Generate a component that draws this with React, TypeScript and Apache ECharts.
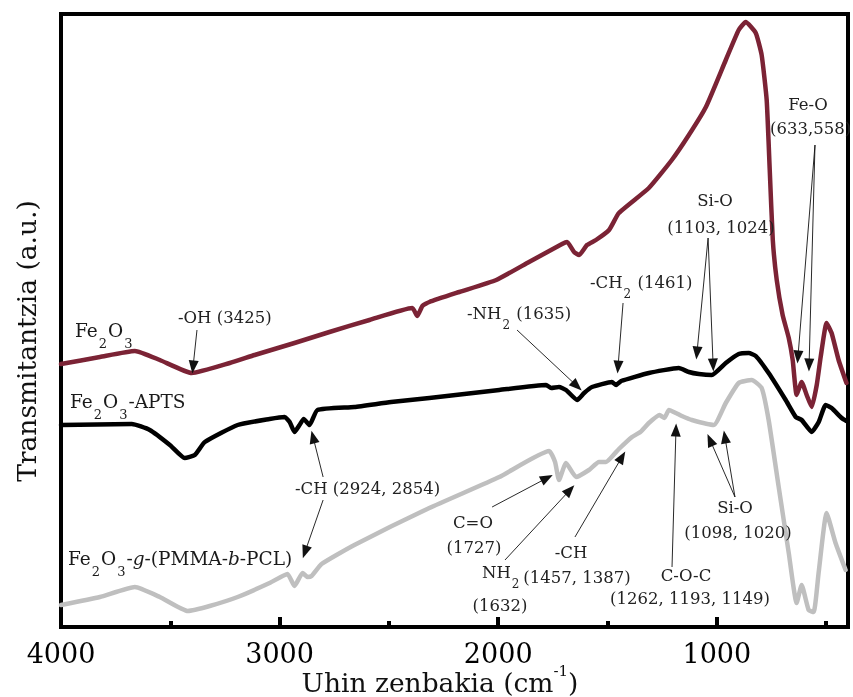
import React, { useEffect, useRef } from 'react';
import * as echarts from 'echarts';

const FONT = '"DejaVu Serif", serif';

const majorTicks = [4000, 3000, 2000, 1000];
const minorTicks = [3500, 2500, 1500, 500];

const seriesNames = ['Fe2O3', 'Fe2O3-APTS', 'Fe2O3-g-(PMMA-b-PCL)'];

const fe2o3Wn = [4000, 3822, 3662, 3548, 3402, 3228, 3114, 2932, 2772, 2589, 2393, 2370, 2347, 2315, 2178, 2009, 1859, 1708, 1685, 1653, 1630, 1594, 1553, 1493, 1448, 1311, 1206, 1128, 1050, 959, 900, 868, 822, 795, 772, 758, 744, 726, 699, 671, 653, 635, 612, 589, 566, 543, 525, 498, 475, 443, 407];
const fe2o3T = [263, 270, 276, 267, 254, 264, 272, 284, 295, 307, 319, 311, 321, 325, 335, 347, 365, 383, 385, 375, 372, 382, 387, 397, 414, 439, 467, 492, 520, 567, 597, 605, 594, 572, 527, 457, 387, 347, 312, 289, 267, 232, 245, 232, 220, 242, 270, 304, 294, 267, 244];

const aptsWn = [4000, 3676, 3594, 3502, 3434, 3388, 3342, 3192, 3046, 2977, 2954, 2932, 2909, 2890, 2863, 2827, 2658, 2490, 2315, 1995, 1781, 1758, 1722, 1690, 1639, 1607, 1571, 1480, 1461, 1438, 1311, 1174, 1128, 1082, 1023, 959, 900, 854, 822, 763, 685, 639, 612, 566, 534, 502, 475, 429, 407];
const aptsT = [202, 203, 197, 182, 169, 172, 185, 202, 208, 210, 205, 195, 202, 208, 202, 217, 220, 225, 229, 237, 242, 239, 240, 237, 227, 234, 240, 245, 242, 246, 254, 259, 255, 253, 252, 264, 273, 274, 271, 254, 227, 210, 207, 195, 205, 222, 219, 209, 206];

const pmmaWn = [4000, 3822, 3662, 3548, 3420, 3320, 3192, 3046, 2964, 2932, 2895, 2872, 2854, 2808, 2658, 2315, 1995, 1767, 1740, 1722, 1690, 1644, 1585, 1539, 1507, 1448, 1388, 1350, 1311, 1262, 1240, 1219, 1187, 1160, 1114, 1014, 959, 900, 840, 795, 763, 717, 671, 635, 612, 580, 557, 534, 498, 457, 411];
const pmmaT = [22, 30, 40, 30, 16, 21, 30, 44, 53, 41, 54, 50, 51, 63, 82, 119, 150, 176, 165, 147, 164, 150, 157, 165, 165, 178, 190, 195, 204, 212, 209, 217, 214, 211, 207, 202, 224, 244, 247, 239, 207, 140, 74, 24, 42, 17, 15, 55, 114, 84, 57];

// annotation arrows: [tailWn, tailT, tipWn, tipT]
const arrows = [
  [3378, 297, 3396, 260],
  [2801, 150, 2847, 190],
  [2801, 127, 2884, 75],
  [1914, 297, 1640, 241],
  [1429, 324, 1452, 260],
  [1040, 389, 1091, 274],
  [1040, 389, 1017, 262],
  [551, 482, 629, 270],
  [551, 482, 578, 262],
  [2028, 120, 1777, 149],
  [1969, 67, 1672, 137],
  [1649, 90, 1434, 170],
  [1205, 60, 1187, 197],
  [917, 130, 1031, 187],
  [917, 130, 963, 190],
];

// series name labels: [text, x, y]
const nameLabels: [string, number, number][] = [
  ['Fe{s|2}O{s|3}', 75, 330],
  ['Fe{s|2}O{s|3}-APTS', 70, 401],
  ['Fe{s|2}O{s|3}-{i|g}-(PMMA-{i|b}-PCL)', 68, 558],
];

// annotation texts: [text, x, y, align]
const labels: [string, number, number, string][] = [
  ['-OH (3425)', 178, 317, 'left'],
  ['-CH (2924, 2854)', 295, 488, 'left'],
  ['-NH{s|2} (1635)', 467, 313, 'left'],
  ['-CH{s|2} (1461)', 590, 282, 'left'],
  ['Si-O', 715, 200, 'center'],
  ['(1103, 1024)', 721, 227, 'center'],
  ['Fe-O', 808, 104, 'center'],
  ['(633,558)', 770, 128, 'left'],
  ['C=O', 473, 522, 'center'],
  ['(1727)', 474, 547, 'center'],
  ['NH{s|2}', 482, 572, 'left'],
  ['(1632)', 500, 605, 'center'],
  ['-CH', 571, 552, 'center'],
  ['(1457, 1387)', 577, 577, 'center'],
  ['C-O-C', 686, 575, 'center'],
  ['(1262, 1193, 1149)', 690, 598, 'center'],
  ['Si-O', 735, 507, 'center'],
  ['(1098, 1020)', 738, 532, 'center'],
];

const zip = (xs: number[], ys: number[]) => xs.map((x, i) => [x, ys[i]]);

const richBase = (size: number, fill: string) => ({
  s: { fontSize: Math.round(size * 0.72), fontFamily: FONT, fill, padding: [Math.round(size * 1.4), 1, 0, 1] },
  i: { fontSize: size, fontFamily: FONT, fontStyle: 'italic', fill },
});

const makeText = (text: string, x: number, y: number, align: string, size: number, fill: string) => ({
  type: 'text',
  z: 100,
  style: {
    text, x, y,
    align, verticalAlign: 'middle',
    textAlign: align, textVerticalAlign: 'middle',
    fontSize: size, fontFamily: FONT, fill,
    rich: richBase(size, fill),
  },
});

export default function App() {
  const ref = useRef<HTMLDivElement>(null);
  useEffect(() => {
    if (!ref.current) return;
    const chart = echarts.init(ref.current, undefined, { renderer: 'svg' });
    const textEls: any[] = [
      ...nameLabels.map(([t, x, y]) => makeText(t, x, y, 'left', 18.5, '#1a1a1a')),
      ...labels.map(([t, x, y, a]) => makeText(t, x, y, a, 16.5, '#222')),
    ];
    textEls.push({
      type: 'text', z: 100, rotation: Math.PI / 2, x: 26, y: 341,
      style: {
        text: 'Transmitantzia (a.u.)', x: 0, y: 0,
        align: 'center', verticalAlign: 'middle', textAlign: 'center', textVerticalAlign: 'middle',
        fontSize: 26.5, fontFamily: FONT, fill: '#111',
      },
    });
    textEls.push({
      type: 'text', z: 100,
      style: {
        text: 'Uhin zenbakia (cm{sup|-1})', x: 440, y: 682,
        align: 'center', verticalAlign: 'middle', textAlign: 'center', textVerticalAlign: 'middle',
        fontSize: 26.5, fontFamily: FONT, fill: '#111',
        rich: { sup: { fontSize: 15, fontFamily: FONT, fill: '#111', padding: [0, 0, 22, 0] } },
      },
    });

    const lineSeries = (name: string, data: number[][], color: string, extra: any = {}) => ({
      type: 'line', name, data, showSymbol: false, symbol: 'none', smooth: 0.15,
      lineStyle: { color, width: 4.5, cap: 'round', join: 'round' },
      xAxisIndex: 0, yAxisIndex: 0, silent: true, ...extra,
    });

    chart.setOption({
      animation: false,
      grid: { left: 61, right: 5, top: 14, bottom: 70, show: true, borderColor: '#000', borderWidth: 4, backgroundColor: 'transparent' },
      xAxis: [
        {
          type: 'value', min: 400, max: 4000, inverse: true, position: 'bottom',
          axisLine: { show: false }, splitLine: { show: false },
          axisTick: { show: true, inside: true, length: 10, lineStyle: { color: '#000', width: 4 }, customValues: majorTicks },
          axisLabel: { show: true, customValues: majorTicks, formatter: (v: number) => String(v), fontFamily: FONT, fontSize: 27, color: '#000', margin: 13 },
        },
        {
          type: 'value', min: 400, max: 4000, inverse: true, position: 'bottom',
          axisLine: { show: false }, splitLine: { show: false }, axisLabel: { show: false },
          axisTick: { show: true, inside: true, length: 6, lineStyle: { color: '#000', width: 4 }, customValues: minorTicks },
        },
      ],
      yAxis: { type: 'value', min: 0, max: 613, show: false, splitLine: { show: false } },
      series: [
        lineSeries(seriesNames[2], zip(pmmaWn, pmmaT), '#bfbfbf'),
        lineSeries(seriesNames[1], zip(aptsWn, aptsT), '#000000'),
        lineSeries(seriesNames[0], zip(fe2o3Wn, fe2o3T), '#7b2335', {
          markLine: {
            silent: true,
            animation: false,
            symbol: ['none', 'triangle'],
            label: { show: false },
            lineStyle: { color: '#111', width: 0.9, type: 'solid' },
            emphasis: { disabled: true },
            data: arrows.map(([a, b, c, d]) => [
              { coord: [a, b], symbol: 'none' },
              { coord: [c, d], symbol: 'triangle', symbolSize: [10, 13] },
            ]),
          },
        }),
      ],
      graphic: { elements: textEls },
    });
    return () => chart.dispose();
  }, []);
  return <div ref={ref} style={{ position: 'fixed', left: 0, top: 0, width: 853, height: 697 }} />;
}
